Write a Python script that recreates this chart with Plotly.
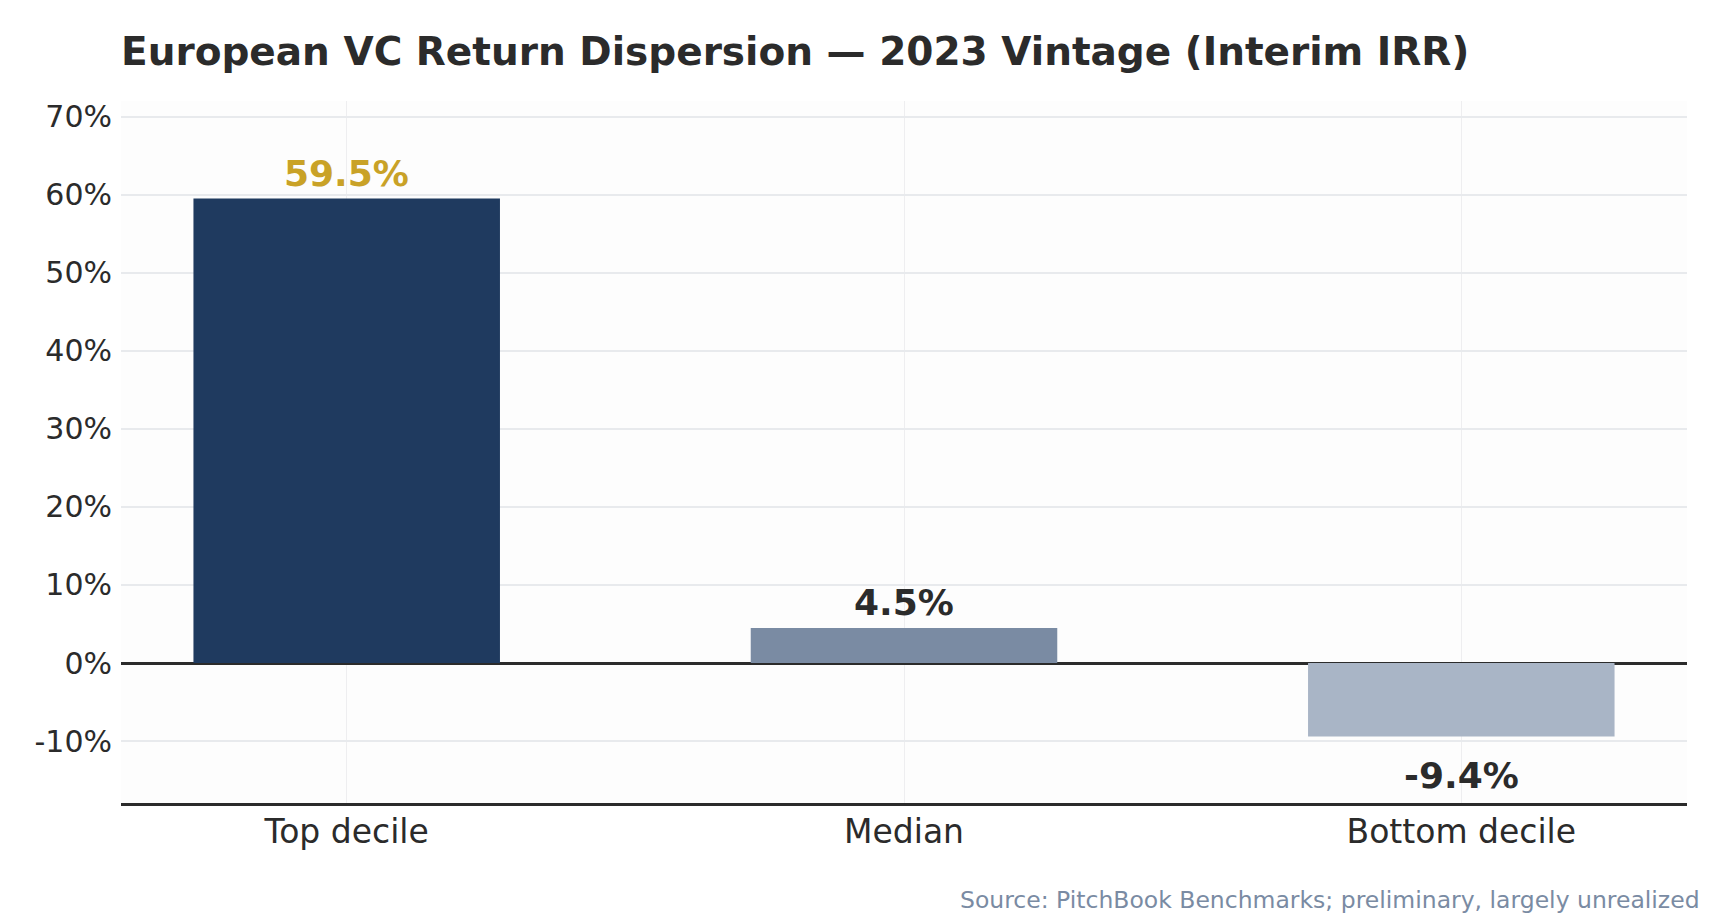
import plotly.graph_objects as go

categories = ["Top decile", "Median", "Bottom decile"]
irr_values = [59.5, 4.5, -9.4]
bar_colors = ["#1F3A5F", "#7A8BA3", "#A9B5C6"]
label_colors = ["#C9A227", "#2B2B2B", "#2B2B2B"]
tick_vals = [-10, 0, 10, 20, 30, 40, 50, 60, 70]
tick_text = [f"{v}%" for v in tick_vals]

FONT = "DejaVu Sans"
DARK = "#2B2B2B"

W, H = 1720, 919
ML, MR, MT, MB = 113, 41, 93, 124

fig = go.Figure()
fig.add_trace(go.Bar(
    x=categories, y=irr_values, marker=dict(color=bar_colors, line=dict(width=0)),
    width=0.55, hoverinfo="skip", showlegend=False,
))

for cat, val, col in zip(categories, irr_values, label_colors):
    fig.add_annotation(
        x=cat, y=val, xref="x", yref="y", text=f"<b>{val:.1f}%</b>",
        showarrow=False, yanchor="middle", yshift=25 if val >= 0 else -39,
        font=dict(family=FONT, size=36, color=col),
    )

plot_w = W - ML - MR
plot_h = H - MT - MB
fig.add_annotation(
    x=(1694 - ML) / plot_w, y=(H - MB - 892) / plot_h, xref="paper", yref="paper",
    text="Source: PitchBook Benchmarks; preliminary, largely unrealized",
    showarrow=False, xanchor="right", yanchor="middle",
    font=dict(family=FONT, size=23.5, color="#7A8BA3"),
)

fig.update_layout(
    width=W, height=H,
    margin=dict(l=ML, r=MR, t=MT, b=MB),
    paper_bgcolor="white", plot_bgcolor="#FDFDFD",
    title=dict(text="<b>European VC Return Dispersion — 2023 Vintage (Interim IRR)</b>",
               x=0, xref="paper", xanchor="left", y=1 - 43 / H, yref="container", yanchor="middle",
               font=dict(family=FONT, size=39, color=DARK)),
    font=dict(family=FONT, color=DARK),
)
fig.update_xaxes(
    range=[-0.405, 2.405], showgrid=True, gridcolor="#EEEEF0", gridwidth=1,
    showline=True, linecolor=DARK, linewidth=2.5, ticks="", ticklabelstandoff=-2,
    tickfont=dict(family=FONT, size=33, color=DARK),
)
fig.update_yaxes(
    range=[-17.93, 72.0], tickvals=tick_vals, ticktext=tick_text,
    showgrid=True, gridcolor="#E8EAED", gridwidth=2,
    zeroline=True, zerolinecolor=DARK, zerolinewidth=2.5,
    showline=False, ticks="", ticklabelstandoff=8,
    tickfont=dict(family=FONT, size=30, color=DARK),
)

fig.write_html("out.html")
